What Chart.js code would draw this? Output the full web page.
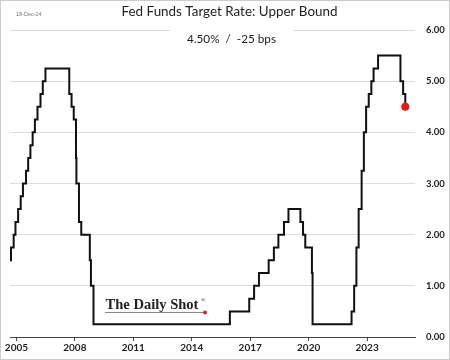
<!DOCTYPE html>
<html>
<head>
<meta charset="utf-8">
<script src="https://cdn.jsdelivr.net/npm/chart.js@4/dist/chart.umd.min.js"></script>
<style>
html,body{margin:0;padding:0;background:#fff}
#wrap{width:450px;height:360px}
</style>
</head>
<body>
<div id="wrap"><canvas id="fedChart" width="450" height="360"></canvas></div>
<script>
/* DATA: dates where the upper bound changed, and the new level */
const changeDates=[
"2004-09-01","2004-09-21","2004-11-10","2004-12-14","2005-02-02","2005-03-22","2005-05-03",
"2005-06-30","2005-08-09","2005-09-20","2005-11-01","2005-12-13","2006-01-31","2006-03-28",
"2006-05-10","2006-06-29","2007-09-18","2007-10-31","2007-12-11","2008-01-22","2008-01-30",
"2008-03-18","2008-04-30","2008-10-08","2008-10-29","2008-12-16","2015-12-16","2016-12-14",
"2017-03-15","2017-06-14","2017-12-13","2018-03-21","2018-06-13","2018-09-26","2018-12-19",
"2019-07-31","2019-09-18","2019-10-30","2020-03-03","2020-03-15","2022-03-16","2022-05-04",
"2022-06-15","2022-07-27","2022-09-21","2022-11-02","2022-12-14","2023-02-01","2023-03-22",
"2023-05-03","2023-07-26","2024-09-18","2024-11-07","2024-12-18"
];
const upperBound=[
1.50,1.75,2.00,2.25,2.50,2.75,3.00,
3.25,3.50,3.75,4.00,4.25,4.50,4.75,
5.00,5.25,4.75,4.50,4.25,3.50,3.00,
2.25,2.00,1.50,1.00,0.25,0.50,0.75,
1.00,1.25,1.50,1.75,2.00,2.25,2.50,
2.25,2.00,1.75,1.25,0.25,0.50,1.00,
1.75,2.50,3.25,4.00,4.50,4.75,5.00,
5.25,5.50,5.00,4.75,4.50
];
const yearTicks=[2005,2008,2011,2014,2017,2020,2023];
const rateTicks=[0,1,2,3,4,5,6];

const chartTitle="Fed Funds Target Rate: Upper Bound";
const subTitle="4.50%  /  -25 bps";
const dateStamp="18-Dec-24";
const brand="The Daily Shot";

/* decimal year from yyyy-mm-dd */
function toYear(s){
const d=Date.parse(s+"T00:00:00Z");
const y=Number(s.slice(0,4));
const a=Date.UTC(y,0,1), b=Date.UTC(y+1,0,1);
return y+(d-a)/(b-a);
}

const points=changeDates.map((d,i)=>({x:toYear(d),y:upperBound[i]}));
const lastIdx=points.length-1;

/* pick a font size so the text spans about `width` px */
function fitFont(c,text,style,family,width){
c.font=style+" 20px "+family;
const s=20*width/c.measureText(text).width;
c.font=style+" "+s.toFixed(2)+"px "+family;
}

/* titles, watermark, frame */
const decor={
id:"decor",
beforeDatasetsDraw(chart){
const c=chart.ctx;
c.save();
// gap in top gridline behind subtitle
c.fillStyle="#fff";
c.fillRect(170,25,123,10);

c.fillStyle="#222";
c.textAlign="center";
c.textBaseline="alphabetic";
fitFont(c,chartTitle,"normal","Lato",216);
c.fillText(chartTitle,229.5,16);
fitFont(c,subTitle,"normal","Lato",89);
c.fillText(subTitle,231.5,43);

c.fillStyle="#777";
c.textAlign="left";
c.textBaseline="middle";
c.font="5.5px 'Liberation Sans'";
c.fillText(dateStamp,16,14);

// watermark
c.fillStyle="#222";
c.textBaseline="alphabetic";
fitFont(c,brand,"bold","'Liberation Serif'",93);
c.fillText(brand,105.5,309);
c.font="6px 'Liberation Serif'";
c.fillText("\u00AE",201,302);
c.strokeStyle="#888";
c.lineWidth=1;
c.beginPath();
c.moveTo(105,312.5);
c.lineTo(205,312.5);
c.stroke();
c.fillStyle="#d22";
c.beginPath();
c.arc(205,312.5,2,0,Math.PI*2);
c.fill();

// outer frame
c.strokeStyle="#ccc";
c.strokeRect(0.5,0.5,449,359);
c.restore();
}
};

new Chart(document.getElementById("fedChart"),{
type:"line",
data:{
datasets:[{
data:points,
stepped:"before",
borderColor:"#111",
borderWidth:2,
pointRadius:ctx=>ctx.dataIndex===lastIdx?4:0,
pointBackgroundColor:"#e41b17",
pointBorderWidth:0,
pointHoverRadius:0
}]
},
options:{
responsive:false,
animation:false,
events:[],
layout:{padding:{left:10,right:0,top:30,bottom:3}},
plugins:{legend:{display:false},tooltip:{enabled:false}},
scales:{
x:{
type:"linear",
min:2004.67,
max:2025.46,
afterBuildTicks:s=>{s.ticks=yearTicks.map(v=>({value:v}))},
afterFit:s=>{s.height=20},
ticks:{
autoSkip:false,
maxRotation:0,
padding:1,
color:"#222",
font:{family:"Lato",size:10,weight:"bold"},
callback:v=>String(v)
},
grid:{drawOnChartArea:false,tickLength:4,color:"#444"},
border:{color:"#444",width:1}
},
y:{
position:"right",
min:0,
max:6,
afterBuildTicks:s=>{s.ticks=rateTicks.map(v=>({value:v}))},
afterFit:s=>{s.width=35},
ticks:{
padding:11,
color:"#222",
font:{family:"Lato",size:9.5,weight:"bold"},
callback:v=>Number(v).toFixed(2)
},
grid:{
drawTicks:false,
color:ctx=>ctx.tick&&ctx.tick.value===0?"rgba(0,0,0,0)":"#dcdcdc"
},
border:{display:false}
}
}
},
plugins:[decor]
});
</script>
</body>
</html>
